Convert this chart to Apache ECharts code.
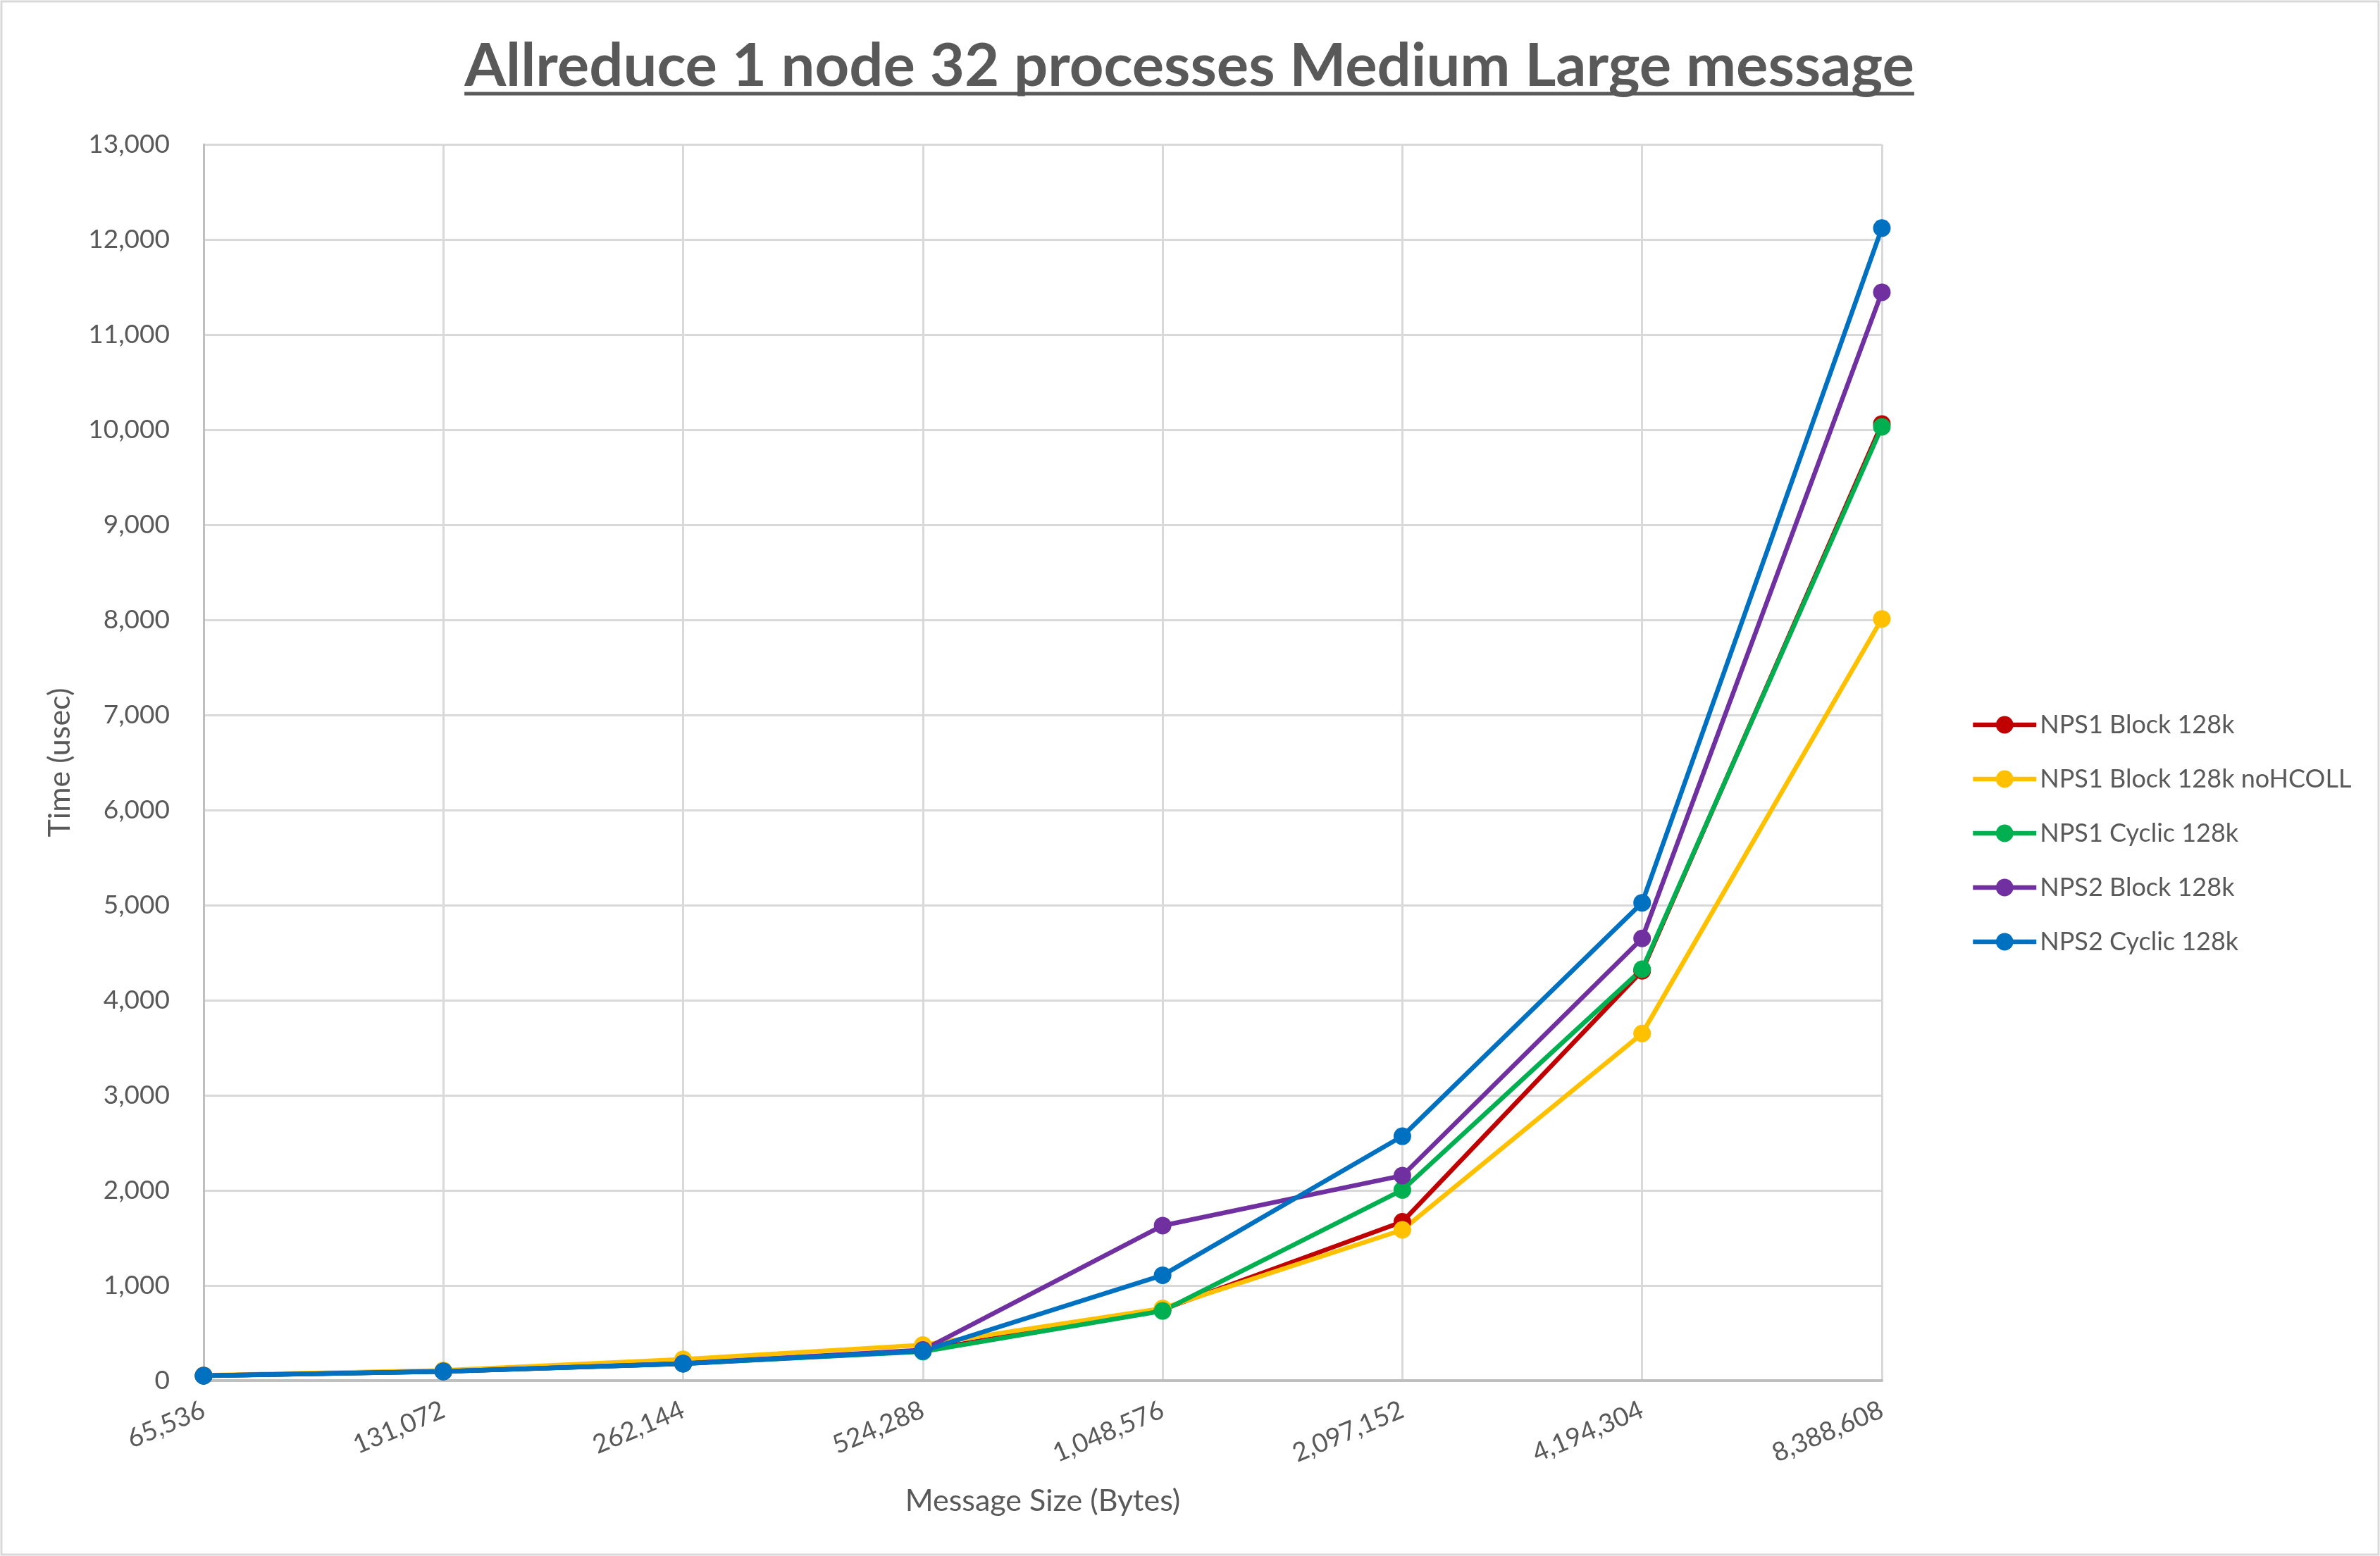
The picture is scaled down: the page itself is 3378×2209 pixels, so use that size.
<!DOCTYPE html>
<html>
<head>
<meta charset="utf-8">
<style>
html,body{margin:0;padding:0;background:#fff;}
#main{width:3378px;height:2209px;}
</style>
<script src="https://cdn.jsdelivr.net/npm/echarts@6/dist/echarts.min.js"></script>
</head>
<body>
<div id="main"></div>
<script>
// ---- data ----
var categories = ['65,536','131,072','262,144','524,288','1,048,576','2,097,152','4,194,304','8,388,608'];
var seriesNames = ['NPS1 Block 128k','NPS1 Block 128k noHCOLL','NPS1 Cyclic 128k','NPS2 Block 128k','NPS2 Cyclic 128k'];
var nps1Block        = [52, 98, 180, 315, 748, 1670, 4310, 10060];
var nps1BlockNoHcoll = [56, 108, 225, 375, 760, 1585, 3650, 8010];
var nps1Cyclic       = [50, 96, 178, 305, 733, 2005, 4326, 10030];
var nps2Block        = [52, 97, 180, 322, 1630, 2156, 4650, 11445];
var nps2Cyclic       = [52, 97, 178, 312, 1108, 2570, 5025, 12120];
var yTicks = {min: 0, max: 13000, interval: 1000};

var colors = ['#C00000','#FFC000','#00B050','#7030A0','#0070C0'];
var values = [nps1Block, nps1BlockNoHcoll, nps1Cyclic, nps2Block, nps2Cyclic];

var FONT = 'Lato';
var titleText = 'Allreduce 1 node 32 processes Medium Large message';
var titleFont = 'bold 85px ' + FONT;
var cv = document.createElement('canvas').getContext('2d');
cv.font = titleFont;
var tw = cv.measureText(titleText).width;

var chart = echarts.init(document.getElementById('main'), null, {renderer:'canvas'});

var series = seriesNames.map(function(n, i){
  return {
    name: n,
    type: 'line',
    data: values[i],
    symbol: 'circle',
    symbolSize: 25,
    lineStyle: {width: 6.5, color: colors[i]},
    itemStyle: {color: colors[i]},
    emphasis: {disabled: true},
    animation: false
  };
});

chart.setOption({
  animation: false,
  backgroundColor: '#fff',
  grid: {left: 289, right: 707, top: 205, bottom: 249, containLabel: false},
  xAxis: {
    type: 'category',
    data: categories,
    boundaryGap: false,
    axisLine: {show: true, lineStyle: {color: '#BFBFBF', width: 4}},
    axisTick: {show: false},
    splitLine: {show: true, lineStyle: {color: '#D9D9D9', width: 3}},
    axisLabel: {rotate: 23, margin: 40, color: '#595959', fontFamily: FONT, fontSize: 37},
    name: 'Message Size (Bytes)',
    nameLocation: 'middle',
    nameGap: 150,
    nameTextStyle: {color: '#595959', fontFamily: FONT, fontSize: 43}
  },
  yAxis: {
    type: 'value',
    min: yTicks.min, max: yTicks.max, interval: yTicks.interval,
    axisLine: {show: true, lineStyle: {color: '#BFBFBF', width: 3}},
    axisTick: {show: false},
    splitLine: {show: true, lineStyle: {color: '#D9D9D9', width: 3}},
    axisLabel: {
      margin: 48, color: '#595959', fontFamily: FONT, fontSize: 37,
      formatter: function(v){ return v.toLocaleString('en-US'); }
    },
    name: 'Time (usec)',
    nameLocation: 'middle',
    nameGap: 182,
    nameRotate: 90,
    nameTextStyle: {color: '#595959', fontFamily: FONT, fontSize: 43}
  },
  legend: {
    orient: 'vertical',
    left: 2792,
    top: 1006,
    itemWidth: 90,
    itemHeight: 31,
    itemGap: 41,
    data: seriesNames,
    lineStyle: {width: 6.5},
    textStyle: {color: '#595959', fontFamily: FONT, fontSize: 36}
  },
  graphic: [
    {type: 'rect', shape: {x: 2, y: 2, width: 3374, height: 2205},
     style: {fill: 'none', stroke: '#D9D9D9', lineWidth: 3}, silent: true, z: -1},
    {type: 'text', x: 1688, y: 95,
     style: {text: titleText, font: titleFont, fill: '#595959', align: 'center', verticalAlign: 'middle'}},
    {type: 'line', shape: {x1: 1688 - tw/2, y1: 133, x2: 1688 + tw/2, y2: 133},
     style: {stroke: '#595959', lineWidth: 5}}
  ],
  series: series
});
</script>
</body>
</html>
